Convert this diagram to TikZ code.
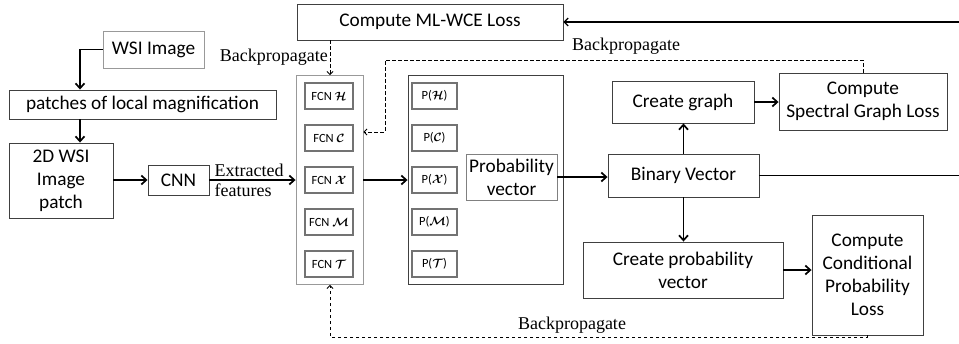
\documentclass[tikz,border=0pt]{standalone}
\usepackage{amsmath, amssymb}
\usepackage{bm}
\usepackage{fontspec}
\setsansfont{Carlito}
\newfontfamily\labfont{Liberation Serif}
\usepackage{tikz}
\usetikzlibrary{calc}
\usetikzlibrary{positioning}
\usetikzlibrary{arrows.meta}

\tikzset{
  box/.style={draw=black!75, line width=0.9pt, font=\sffamily\fontsize{19.3}{23}\selectfont, align=center, inner sep=0pt},
  lightbox/.style={box, draw=black!40},
  smallbox/.style={draw=black!55, line width=1.2pt, font=\sffamily\fontsize{12.5}{14}\selectfont, minimum width=48pt, minimum height=26pt, inner sep=0pt},
  flow/.style={line width=1.8pt, -{Straight Barb[length=5pt, width=9pt, line width=1.7pt]}},
  thinflow/.style={line width=1.1pt, -{Straight Barb[length=4pt, width=8pt]}},
  backprop/.style={line width=0.8pt, dash pattern=on 3.5pt off 2.5pt, -{Straight Barb[length=3pt, width=6pt]}},
  lab/.style={font=\labfont\fontsize{18}{20}\selectfont, inner sep=0pt}
}

\begin{document}
\begin{tikzpicture}[x=1pt, y=-1pt]
    \useasboundingbox (0, 0) rectangle (959, 343);
    \clip (0, 0) rectangle (959, 343);

    % input side
    \node[lightbox, minimum width=101pt, minimum height=37pt] (wsi) at (153.5, 49.5) {WSI Image};
    \node[box, minimum width=267pt, minimum height=29pt] (patches) at (142.5, 104.5) {patches of local magnification};
    \node[box, minimum width=104pt, minimum height=75pt] (patch2d) at (61, 180.5) {2D WSI\\Image\\patch};
    \node[box, minimum width=61pt, minimum height=30pt] (cnn) at (178.5, 180) {CNN};

    % loss at the top
    \node[box, minimum width=266pt, minimum height=36pt] (mlwce) at (430, 22) {Compute ML-WCE Loss};

    % FCN heads and their probabilities
    \node[lightbox, minimum width=67pt, minimum height=209pt] (fcnbox) at (329.5, 180) {};
    \node[box, minimum width=155pt, minimum height=209pt] (pbox) at (485.5, 180) {};
    \foreach \i / \cls in {0 / H, 1 / C, 2 / X, 3 / M, 4 / T} {
      \node[smallbox] (fcn\cls) at (329, 96 + 42*\i) {FCN $\bm{\mathcal{\cls}}$};
      \node[smallbox, minimum width=45pt] (p\cls) at (434.5, 96 + 42*\i) {P($\bm{\mathcal{\cls}}$)};
    }
    \node[box, draw=black!50, minimum width=91pt, minimum height=46pt] (probvec) at (511.5, 177) {Probability\\vector};

    % right side
    \node[box, minimum width=151pt, minimum height=43pt] (bv) at (683.5, 175.5) {Binary Vector};
    \node[box, minimum width=142pt, minimum height=42pt] (graph) at (683, 102) {Create graph};
    \node[box, minimum width=168pt, minimum height=57pt] (sgl) at (863, 101.5) {Compute\\Spectral Graph Loss};
    \node[box, minimum width=200pt, minimum height=56pt] (cpv) at (683, 270) {Create probability\\vector};
    \node[box, minimum width=111pt, minimum height=120pt] (ccpl) at (867.5, 275) {Compute\\Conditional\\Probability\\Loss};

    % helper points
    \coordinate (turn) at (80, 49.5);
    \coordinate (far) at (975, 22);
    \coordinate (bp1) at (385, 60);
    \coordinate (bp2) at (385, 132);
    \coordinate (bp3) at (330, 337);
    \coordinate (bp4) at (330, 40);

    % forward arrows
    \draw[flow] (wsi.west) -- (turn) -- (turn |- patches.north);
    \draw[flow] (turn |- patches.south) -- (turn |- patch2d.north);
    \draw[flow] (patch2d.east |- cnn.west) -- (cnn.west);
    \draw[flow] (cnn.east) -- (fcnbox.west) node[lab, pos=0.05, anchor=west, align=left] {Extracted\\features};
    \draw[flow] (fcnbox.east) -- (pbox.west);
    \draw[flow] (probvec.east) -- (probvec.east -| bv.west);
    \draw[flow] (bv.north) -- (bv.north |- graph.south);
    \draw[flow] (bv.south) -- (bv.south |- cpv.north);
    \draw[flow] (graph.east) -- (graph.east -| sgl.west);
    \draw[flow] (cpv.east) -- (cpv.east -| ccpl.west);
    \draw[thinflow] (bv.east) -| (far) -- (mlwce.east);

    % backpropagation
    \draw[backprop] (bp4) -- (bp4 |- fcnbox.north);
    \node[lab, anchor=east] (bplab1) at (328, 57) {Backpropagate};
    \draw[backprop] (sgl.north) |- (bp1) -- (bp2) -- (bp2 -| fcnbox.east);
    \node[lab] (bplab2) at (626, 46) {Backpropagate};
    \draw[backprop] (ccpl.south) |- (bp3) -- (bp3 |- fcnbox.south);
    \node[lab] (bplab3) at (572, 325) {Backpropagate};
\end{tikzpicture}
\end{document}
